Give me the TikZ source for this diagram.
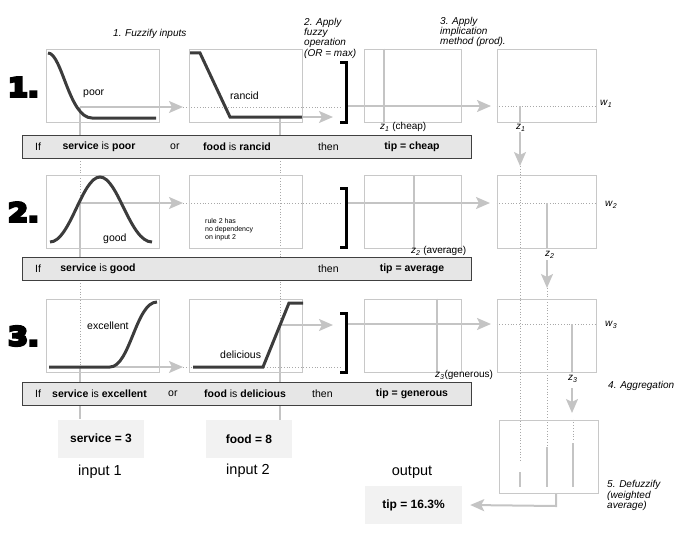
\documentclass[tikz,border=0pt]{standalone}
\usepackage{fontspec}
\usepackage{graphicx}
\setmainfont{Liberation Sans}
\newfontfamily\heavyfont[FakeBold=10]{DejaVu Sans Bold}
\usetikzlibrary{arrows.meta,shadows}
\pgfdeclarelayer{bg}
\pgfsetlayers{bg,main}
\definecolor{boxgray}{HTML}{C8C8C8}
\definecolor{lgray}{HTML}{C4C4C4}
\definecolor{dgray}{HTML}{3C3C3C}
\definecolor{dotgray}{HTML}{A8A8A8}
\definecolor{barfill}{HTML}{E6E6E6}
\definecolor{infill}{HTML}{F2F2F2}
\begin{document}
\begin{tikzpicture}[x=1pt,y=-1pt,
  panel/.style={draw=boxgray,line width=0.8pt,minimum width=#1,minimum height=73pt,inner sep=0pt},
  rulebar/.style={draw=black!75,line width=0.8pt,fill=barfill,minimum width=449pt,minimum height=23pt,inner sep=0pt,
     drop shadow={shadow xshift=1.2pt,shadow yshift=-1.2pt,fill=black!55,opacity=1}},
  valbox/.style={fill=infill,minimum width=86pt,minimum height=38pt,inner sep=0pt,font=\fontsize{12}{14}\selectfont\bfseries},
  mfcurve/.style={draw=dgray,line width=3pt},
  gline/.style={draw=lgray,line width=2pt},
  garrow/.style={gline,-{Stealth[length=14pt,width=12pt,inset=3pt]}},
  dline/.style={draw=dotgray,line width=0.8pt,dash pattern=on 0.8pt off 2pt},
  brk/.style={draw=black,line width=3pt},
  lbl/.style={inner sep=0pt,font=\fontsize{10.5}{12}\selectfont},
  note/.style={inner sep=0pt,align=left,font=\fontsize{10}{10.2}\selectfont\itshape},
  bartext/.style={inner sep=0pt,font=\fontsize{10.5}{12}\selectfont},
  bignum/.style={inner sep=0pt,anchor=east,font=\fontsize{26}{28}\heavyfont},
  zlab/.style={inner sep=0pt,font=\fontsize{10}{12}\selectfont},
  biglbl/.style={inner sep=0pt,font=\fontsize{14.5}{16}\selectfont}
]
\useasboundingbox (0,0) rectangle (684,532);

% ---------- panels ----------
\node[panel=113pt] (b11) at (102.5,85.5) {};
\node[panel=113pt] (b12) at (246,85.5) {};
\node[panel=97pt]  (b13) at (412.5,85.5) {};
\node[panel=99pt]  (b14) at (546.5,85.5) {};
\node[panel=113pt] (b21) at (102.5,211.5) {};
\node[panel=113pt] (b22) at (246,211.5) {};
\node[panel=97pt]  (b23) at (412.5,211.5) {};
\node[panel=99pt]  (b24) at (546.5,211.5) {};
\node[panel=113pt] (b31) at (102.5,335.5) {};
\node[panel=113pt] (b32) at (246,335.5) {};
\node[panel=97pt]  (b33) at (412.5,335.5) {};
\node[panel=99pt]  (b34) at (546.5,335.5) {};
\node[panel=99pt]  (def) at (548.5,456.5) {};

% ---------- rule bars ----------
\node[rulebar] (bar1) at (246.5,146.5) {};
\node[rulebar] (bar2) at (246.5,268.5) {};
\node[rulebar] (bar3) at (246.5,393.5) {};

% ---------- value boxes ----------
\node[valbox] (svc) at (101,438.5) {service = 3};
\node[valbox] (food) at (249,439) {food = 8};
\node[valbox,minimum width=97pt] (tip) at (413.5,505) {tip = 16.3\%};

% ---------- key coordinates ----------
\coordinate (s1) at (80,107);
\coordinate (s2) at (80,203);
\coordinate (s3) at (80,367);
\coordinate (f1) at (280,117);
\coordinate (f3) at (280,325);
\coordinate (sa1) at (183,107);
\coordinate (sa2) at (183,203);
\coordinate (sa3) at (183,367);
\coordinate (fa1) at (333,117);
\coordinate (fa3) at (333,325);
\coordinate (k1) at (346,106);
\coordinate (k2) at (346,203);
\coordinate (k3) at (346,324);
\coordinate (o1) at (491,106);
\coordinate (o2) at (490,203);
\coordinate (o3) at (491,324);
\coordinate (zx1) at (384,0);
\coordinate (zx2) at (414,0);
\coordinate (zx3) at (437,0);
\coordinate (ax1) at (520,0);
\coordinate (ax2) at (547,0);
\coordinate (ax3) at (573,0);

% ---------- lines (background) ----------
\begin{pgfonlayer}{bg}
  % service column
  \draw[gline] (s1) -- (bar1.north -| s1);
  \draw[dline] (bar1.south -| s1) -- (s2);
  \draw[gline] (s2) -- (bar2.north -| s2);
  \draw[dline] (bar2.south -| s2) -- (s3);
  \draw[gline] (s3) -- (svc.north -| s3);
  % food column
  \draw[gline] (f1) -- (bar1.north -| f1);
  \draw[dline] (bar1.south -| f1) -- (f3);
  \draw[gline] (f3) -- (food.north -| f3);
  % arrows from inputs
  \draw[garrow] (s1) -- (sa1);
  \draw[garrow] (s2) -- (sa2);
  \draw[garrow] (s3) -- (sa3);
  \draw[garrow] (f1) -- (fa1);
  \draw[garrow] (f3) -- (fa3);
  \draw[dline] (sa1) -- ([xshift=-6pt]k1 |- sa1);
  \draw[dline] (sa2) -- ([xshift=-6pt]k2 |- sa2);
  \draw[dline] (sa3) -- ([xshift=-6pt]k3 |- sa3);
  % implication outputs
  \draw[garrow] (k1) -- (o1);
  \draw[garrow] (k2) -- (o2);
  \draw[garrow] (k3) -- (o3);
  \draw[gline] (b13.north -| zx1) -- (b13.south -| zx1);
  \draw[gline] (b23.north -| zx2) -- (b23.south -| zx2);
  \draw[gline] (b33.north -| zx3) -- (b33.south -| zx3);
  \draw[dline] (b14.west |- o1) -- (b14.east |- o1);
  \draw[dline] (b24.west |- o2) -- (b24.east |- o2);
  \draw[dline] (b34.west |- o3) -- (b34.east |- o3);
  \draw[gline] (ax1 |- o1) -- (b14.south -| ax1);
  \draw[gline] (ax2 |- o2) -- (b24.south -| ax2);
  \draw[gline] ([xshift=-1pt]ax3 |- o3) -- ([xshift=-1pt]b34.south -| ax3);
  % aggregation
  \draw[garrow] (520,132) coordinate (d1s) -- (520,166) coordinate (d1e);
  \draw[garrow] (547,260) coordinate (d2s) -- (547,288) coordinate (d2e);
  \draw[garrow] (572,388) coordinate (d3s) -- (572,413) coordinate (d3e);
  \draw[dline] (d1e) -- (520,462);
  \draw[dline] (d2e) -- (547,445);
  \draw[dline] (def.north -| ax3) -- (573,440);
  \draw[gline] (520,472) -- ([yshift=6pt]def.south -| ax1);
  \draw[gline] (547,447) -- ([yshift=6pt]def.south -| ax2);
  \draw[gline] (573,443) -- ([yshift=6pt]def.south -| ax3);
  % defuzzified output
  \draw[garrow] (def.south -| 556,0) -- (556,506) -- ([xshift=8pt]tip.east);
\end{pgfonlayer}

% ---------- membership curves ----------
\draw[mfcurve] (48,53) .. controls (62,53) and (69,118) .. (92,118) -- (156,118);
\draw[mfcurve] (190,53) -- (200,53) -- (230,117) -- (302,117);
\draw[mfcurve] (50,242) .. controls (70,242) and (82,177) .. (100,177)
               .. controls (118,177) and (130,242) .. (152,242);
\draw[mfcurve] (49,367) -- (110,367) .. controls (130,367) and (136,302) .. (157,302);
\draw[mfcurve] (193,367) -- (263,367) -- (289,303) -- (303,303);

% ---------- brackets ----------
\draw[brk] (340,63) -- (346,63) -- (346,122) -- (340,122);
\draw[brk] (340,188) -- (346,188) -- (346,247) -- (340,247);
\draw[brk] (340,313) -- (346,313) -- (346,372) -- (340,372);

% ---------- big numbers ----------
\node[bignum] (n1) at (39,87) {\scalebox{1.1}[1]{1.}};
\node[bignum] (n2) at (39,212) {\scalebox{1.1}[1]{2.}};
\node[bignum] (n3) at (39,336) {\scalebox{1.1}[1]{3.}};

% ---------- step notes ----------
\node[note,anchor=base west] (st1) at (113,36.5) {1. Fuzzify inputs};
\node[note,anchor=north west] (st2) at (304,18) {2. Apply\\fuzzy\\operation\\(OR = max)};
\node[note,anchor=north west] (st3) at (440,17) {3. Apply\\implication\\method (prod).};
\node[note,anchor=base west] (st4) at (608,388.5) {4. Aggregation};
\node[note,anchor=north west] (st5) at (607,480.5) {5. Defuzzify\\(weighted\\average)};

% ---------- membership labels ----------
\node[lbl,anchor=west] (lpoor) at (83,94) {poor};
\node[lbl,anchor=west] (lranc) at (230,96) {rancid};
\node[lbl,anchor=west] (lgood) at (103,239) {good};
\node[lbl,anchor=west] (lexc) at (87,326) {excellent};
\node[lbl,anchor=west] (ldel) at (220,355) {delicious};
\node[inner sep=0pt,anchor=north west,align=left,font=\fontsize{7}{7.8}\selectfont] (nodep) at (205,218.5) {rule 2 has\\no dependency\\on input 2};

% ---------- z and w labels ----------
\node[zlab,anchor=west] (zl1) at (380,127) {\textit{z}\textsubscript{\textit{1}} (cheap)};
\node[zlab,anchor=west] (zl2) at (411,251) {\textit{z}\textsubscript{\textit{2}} (average)};
\node[zlab,anchor=west] (zl3) at (435,375) {\textit{z}\textsubscript{\textit{3}}(generous)};
\node[zlab,anchor=west] (za1) at (516,128) {\textit{z}\textsubscript{\textit{1}}};
\node[zlab,anchor=west] (za2) at (545,255) {\textit{z}\textsubscript{\textit{2}}};
\node[zlab,anchor=west] (za3) at (568,379) {\textit{z}\textsubscript{\textit{3}}};
\node[zlab,anchor=west] (w1) at (600,104) {\textit{w}\textsubscript{\textit{1}}};
\node[zlab,anchor=west] (w2) at (605,205) {\textit{w}\textsubscript{\textit{2}}};
\node[zlab,anchor=west] (w3) at (605,325) {\textit{w}\textsubscript{\textit{3}}};

% ---------- rule bar texts ----------
\node[bartext,anchor=west] (r1a) at (35,146.5) {If};
\node[bartext] (r1b) at (99,146.5) {\textbf{service} is \textbf{poor}};
\node[bartext,anchor=west] (r1c) at (170,146.5) {or};
\node[bartext,anchor=west] (r1d) at (203,146.5) {\textbf{food} is \textbf{rancid}};
\node[bartext,anchor=west] (r1e) at (318,146.5) {then};
\node[bartext] (r1f) at (412,146.5) {\textbf{tip = cheap}};

\node[bartext,anchor=west] (r2a) at (35,268.5) {If};
\node[bartext] (r2b) at (98,268.5) {\textbf{service} is \textbf{good}};
\node[bartext,anchor=west] (r2e) at (318,268.5) {then};
\node[bartext] (r2f) at (412,268.5) {\textbf{tip = average}};

\node[bartext,anchor=west] (r3a) at (35,393.5) {If};
\node[bartext] (r3b) at (99.5,393.5) {\textbf{service} is \textbf{excellent}};
\node[bartext,anchor=west] (r3c) at (168,393.5) {or};
\node[bartext,anchor=west] (r3d) at (204,393.5) {\textbf{food} is \textbf{delicious}};
\node[bartext,anchor=west] (r3e) at (312,393.5) {then};
\node[bartext] (r3f) at (412,393.5) {\textbf{tip = generous}};

% ---------- bottom labels ----------
\node[biglbl] (in1) at (100,472) {input 1};
\node[biglbl] (in2) at (248,471) {input 2};
\node[biglbl] (outl) at (412,472) {output};
\end{tikzpicture}
\end{document}
